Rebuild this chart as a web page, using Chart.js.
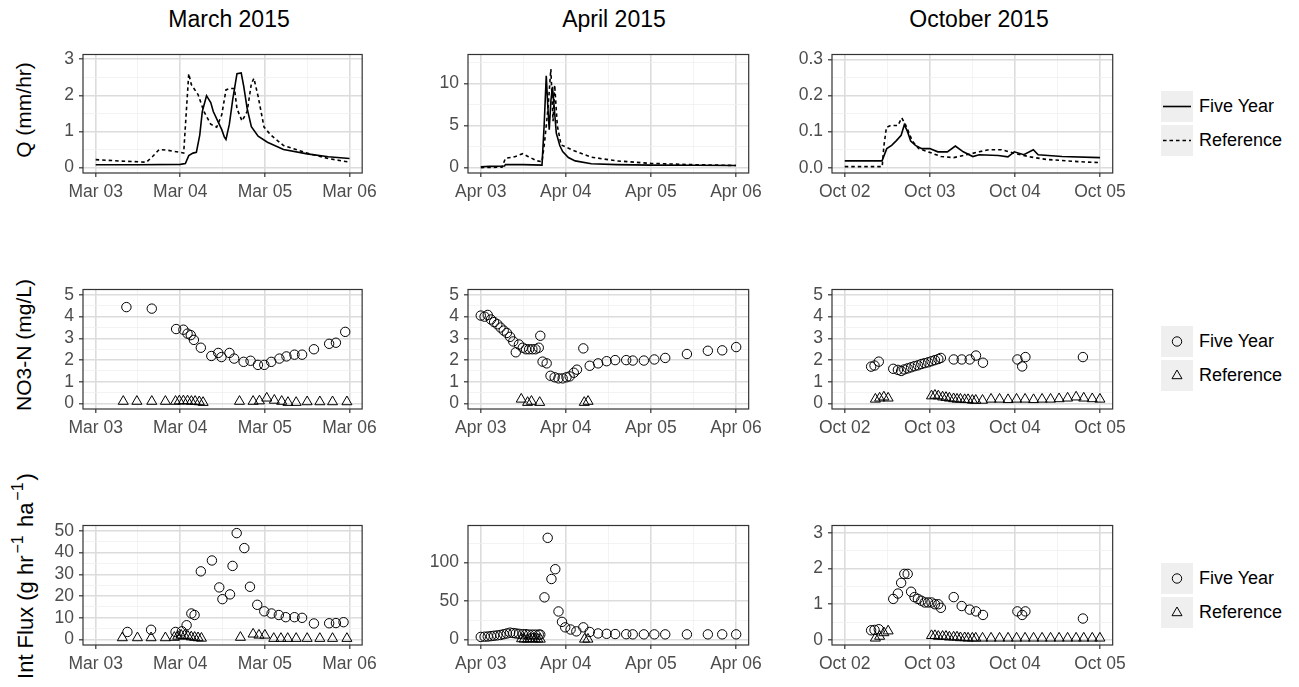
<!DOCTYPE html>
<html>
<head>
<meta charset="utf-8">
<script src="https://cdn.jsdelivr.net/npm/chart.js@4/dist/chart.umd.min.js"></script>
<style>
body { margin:0; background:#fff; width:1299px; height:687px; position:relative; overflow:hidden;
       font-family:"Liberation Sans", Arial, sans-serif; }
canvas { position:absolute; }
.title { position:absolute; font-size:23px; color:#000; transform:translateX(-50%); white-space:nowrap; }
.ytitle { position:absolute; font-size:21px; color:#000; white-space:nowrap;
          transform:translate(-50%,-50%) rotate(-90deg); }
.ytitle sup { font-size:16px; position:relative; top:-3px; vertical-align:top; line-height:1; margin:0 2px; }
.key { position:absolute; width:32px; height:31px; background:#efefef; }
.key svg { position:absolute; left:0; top:0; }
.lt { position:absolute; font-size:18px; color:#000; white-space:nowrap; transform:translateY(-50%); }
</style>
</head>
<body>
<div class="title" style="left:229px;top:6px">March 2015</div>
<div class="title" style="left:614px;top:6px">April 2015</div>
<div class="title" style="left:979px;top:6px">October 2015</div>
<div class="ytitle" style="left:24px;top:110px">Q (mm/hr)</div>
<div class="ytitle" style="left:24px;top:345px">NO3-N (mg/L)</div>
<div class="ytitle" style="left:26px;top:576px;font-size:22px">Int Flux (g hr<sup>−1</sup> ha<sup>−1</sup>)</div>
<script>
// tick labels
const marTicks = ['Mar 03', 'Mar 04', 'Mar 05', 'Mar 06'];
const aprTicks = ['Apr 03', 'Apr 04', 'Apr 05', 'Apr 06'];
const octTicks = ['Oct 02', 'Oct 03', 'Oct 04', 'Oct 05'];
const seriesNames = ['Five Year', 'Reference'];

// discharge Q (mm/hr), x = days after the first tick
const marQFive = [[0,0.08],[0.5,0.08],[1.0,0.09],[1.06,0.11],[1.1,0.33],[1.15,0.4],[1.19,0.42],[1.23,0.9],[1.26,1.55],[1.31,1.99],[1.36,1.8],[1.39,1.55],[1.45,1.25],[1.49,1.05],[1.52,0.85],[1.54,0.78],[1.58,1.2],[1.62,1.89],[1.67,2.6],[1.72,2.62],[1.75,2.25],[1.79,1.64],[1.84,1.13],[1.92,0.87],[2.03,0.7],[2.22,0.5],[2.5,0.38],[2.75,0.3],[3.0,0.25]];
const marQRef = [[0,0.22],[0.3,0.18],[0.6,0.15],[0.67,0.3],[0.75,0.5],[0.85,0.48],[1.0,0.42],[1.04,0.4],[1.07,1.5],[1.1,2.6],[1.13,2.3],[1.21,2.02],[1.28,1.55],[1.36,1.2],[1.43,1.12],[1.49,1.46],[1.54,2.15],[1.58,2.19],[1.64,2.19],[1.67,1.63],[1.73,1.29],[1.79,1.55],[1.84,2.32],[1.87,2.47],[1.92,1.97],[1.99,1.12],[2.07,0.9],[2.22,0.61],[2.5,0.4],[2.75,0.25],[3.0,0.15]];
const aprQFive = [[0,0.1],[0.1,0.15],[0.28,0.2],[0.29,0.35],[0.5,0.35],[0.72,0.3],[0.745,5],[0.77,10.9],[0.79,7],[0.805,4.5],[0.825,8],[0.843,9.6],[0.865,7],[0.888,4.1],[0.93,2.6],[0.963,1.9],[1.03,1.2],[1.11,0.8],[1.3,0.45],[1.6,0.35],[2.0,0.3],[2.5,0.28],[3.0,0.25]];
const aprQRef = [[0,0.0],[0.25,0.05],[0.29,1.1],[0.4,1.3],[0.494,1.65],[0.56,1.3],[0.663,0.8],[0.72,0.7],[0.75,3],[0.79,7],[0.824,11.7],[0.85,5.5],[0.869,9.8],[0.9,5],[0.944,2.7],[1.075,2.1],[1.3,1.24],[1.6,0.8],[2.0,0.5],[2.5,0.35],[3.0,0.25]];
const octQFive = [[0,0.019],[0.438,0.019],[0.494,0.053],[0.551,0.062],[0.607,0.075],[0.663,0.09],[0.7,0.119],[0.738,0.1],[0.775,0.074],[0.831,0.062],[0.906,0.053],[1.0,0.053],[1.094,0.044],[1.206,0.044],[1.3,0.06],[1.393,0.044],[1.506,0.031],[1.58,0.036],[1.805,0.034],[1.918,0.03],[1.993,0.044],[2.105,0.036],[2.217,0.05],[2.273,0.036],[2.554,0.031],[3.0,0.028]];
const octQRef = [[0,0.003],[0.44,0.003],[0.46,0.06],[0.49,0.112],[0.539,0.117],[0.625,0.117],[0.67,0.138],[0.719,0.117],[0.794,0.074],[0.869,0.053],[0.981,0.044],[1.131,0.031],[1.281,0.028],[1.431,0.036],[1.58,0.044],[1.693,0.05],[1.843,0.05],[1.993,0.04],[2.18,0.03],[2.367,0.023],[2.742,0.017],[3.0,0.014]];

// NO3-N (mg/L)
const marNFive = [[0.363,4.44],[0.663,4.37],[0.951,3.43],[1.037,3.4],[1.086,3.22],[1.124,3.15],[1.161,2.93],[1.243,2.57],[1.367,2.19],[1.449,2.33],[1.487,2.14],[1.581,2.33],[1.637,2.07],[1.749,1.92],[1.831,1.97],[1.918,1.78],[1.993,1.78],[2.075,1.92],[2.172,2.07],[2.255,2.17],[2.35,2.25],[2.44,2.25],[2.58,2.5],[2.76,2.75],[2.84,2.8],[2.95,3.3]];
const marNRef = [[0.326,0.1],[0.487,0.1],[0.663,0.1],[0.824,0.1],[0.944,0.1],[0.989,0.12],[1.037,0.12],[1.086,0.12],[1.131,0.1],[1.176,0.1],[1.225,0.08],[1.27,0.05],[1.7,0.1],[1.861,0.1],[1.936,0.12],[2.022,0.25],[2.112,0.15],[2.199,0.1],[2.273,0.05],[2.37,0.05],[2.5,0.08],[2.65,0.08],[2.8,0.08],[2.97,0.08]];
const aprNFive = [[0,4.05],[0.045,4.0],[0.082,4.08],[0.12,3.87],[0.157,3.75],[0.195,3.65],[0.232,3.5],[0.27,3.36],[0.307,3.25],[0.345,3.07],[0.382,2.86],[0.412,2.36],[0.449,2.72],[0.494,2.57],[0.532,2.5],[0.569,2.5],[0.607,2.5],[0.644,2.5],[0.682,2.57],[0.7,3.12],[0.727,1.93],[0.775,1.85],[0.82,1.28],[0.869,1.21],[0.914,1.16],[0.963,1.16],[1.008,1.21],[1.045,1.25],[1.094,1.42],[1.131,1.56],[1.206,2.54],[1.281,1.74],[1.38,1.85],[1.48,1.95],[1.58,2.0],[1.71,2.0],[1.787,1.98],[1.918,1.98],[2.041,2.03],[2.169,2.1],[2.424,2.28],[2.67,2.43],[2.839,2.45],[3.003,2.6]];
const aprNRef = [[0.476,0.2],[0.551,0.05],[0.596,0.1],[0.693,0.05],[1.217,0.05],[1.262,0.1]];
const octNFive = [[0.31,1.7],[0.35,1.75],[0.4,1.93],[0.57,1.6],[0.625,1.55],[0.663,1.5],[0.7,1.57],[0.74,1.62],[0.78,1.67],[0.82,1.72],[0.86,1.76],[0.9,1.82],[0.94,1.86],[0.98,1.9],[1.02,1.95],[1.06,2.0],[1.1,2.05],[1.13,2.1],[1.281,2.03],[1.375,2.03],[1.469,2.03],[1.543,2.21],[1.625,1.88],[2.03,2.03],[2.086,1.71],[2.124,2.14],[2.8,2.14]];
const octNRef = [[0.36,0.2],[0.41,0.25],[0.46,0.3],[0.51,0.25],[1.02,0.35],[1.06,0.38],[1.1,0.35],[1.15,0.3],[1.19,0.28],[1.23,0.25],[1.28,0.22],[1.32,0.2],[1.36,0.2],[1.41,0.18],[1.45,0.18],[1.5,0.15],[1.54,0.15],[1.62,0.15],[1.72,0.2],[1.82,0.2],[1.92,0.18],[2.02,0.2],[2.12,0.2],[2.22,0.18],[2.32,0.2],[2.42,0.2],[2.52,0.22],[2.62,0.25],[2.72,0.3],[2.81,0.25],[2.91,0.22],[3.0,0.2]];

// integrated flux (g hr-1 ha-1)
const marFFive = [[0.375,3.5],[0.655,4.5],[0.944,3.5],[1.019,3.8],[1.075,6.6],[1.131,12.0],[1.169,11.3],[1.243,31.4],[1.374,36.4],[1.461,24.0],[1.498,18.6],[1.588,20.8],[1.618,33.9],[1.667,49.0],[1.757,42.1],[1.824,24.3],[1.91,16.0],[1.993,13.0],[2.079,12.0],[2.165,11.3],[2.247,10.3],[2.35,10.3],[2.44,10.0],[2.58,7.4],[2.76,7.5],[2.84,7.6],[2.93,8.0]];
const marFRef = [[0.315,0.8],[0.494,0.8],[0.655,0.8],[0.824,0.8],[0.93,1.0],[0.97,1.5],[1.01,2.0],[1.05,1.8],[1.09,1.5],[1.13,1.2],[1.17,1.0],[1.21,0.8],[1.25,0.6],[1.711,1.0],[1.861,2.5],[1.93,2.0],[2.0,2.0],[2.105,0.5],[2.19,0.5],[2.27,0.5],[2.37,0.5],[2.5,0.5],[2.65,0.5],[2.8,0.5],[2.97,0.5]];
const aprFFive = [[0,3.5],[0.045,3.8],[0.082,4],[0.12,4.5],[0.157,5],[0.195,5.5],[0.232,6],[0.27,7],[0.307,8],[0.345,9],[0.382,8.5],[0.412,8],[0.449,7.5],[0.494,7],[0.532,7],[0.569,6.5],[0.607,6.5],[0.644,6.5],[0.682,6.5],[0.7,6.5],[0.749,54.8],[0.787,132],[0.831,78.6],[0.876,91.3],[0.914,36.5],[0.955,23],[0.993,15.9],[1.056,13.1],[1.124,10.7],[1.206,15.9],[1.281,9.9],[1.38,8],[1.48,7.5],[1.58,7.2],[1.71,7],[1.787,6.8],[1.918,6.8],[2.041,6.8],[2.169,6.8],[2.424,6.8],[2.67,6.8],[2.839,6.8],[3.003,6.8]];
const aprFRef = [[0.48,1],[0.51,0.5],[0.55,0.5],[0.58,1],[0.61,1],[0.64,0.8],[0.67,0.6],[0.7,0.5],[1.22,0.5],[1.26,0.5]];
const octFFive = [[0.31,0.27],[0.35,0.28],[0.4,0.3],[0.57,1.15],[0.625,1.3],[0.663,1.6],[0.7,1.85],[0.74,1.85],[0.78,1.35],[0.82,1.2],[0.86,1.15],[0.9,1.1],[0.94,1.05],[0.98,1.05],[1.02,1.05],[1.06,1.0],[1.1,1.0],[1.13,0.9],[1.281,1.2],[1.375,0.95],[1.469,0.85],[1.543,0.8],[1.625,0.7],[2.03,0.8],[2.086,0.7],[2.124,0.8],[2.8,0.6]];
const octFRef = [[0.36,0.05],[0.41,0.1],[0.46,0.2],[0.51,0.25],[1.02,0.12],[1.06,0.12],[1.1,0.1],[1.15,0.1],[1.19,0.1],[1.23,0.08],[1.28,0.08],[1.32,0.08],[1.36,0.06],[1.41,0.06],[1.45,0.05],[1.5,0.05],[1.54,0.05],[1.62,0.05],[1.72,0.05],[1.82,0.05],[1.92,0.05],[2.02,0.05],[2.12,0.05],[2.22,0.05],[2.32,0.05],[2.42,0.05],[2.52,0.05],[2.62,0.05],[2.72,0.05],[2.81,0.05],[2.91,0.05],[3.0,0.05]];

Chart.defaults.font.family = '"Liberation Sans", Arial, sans-serif';

const COLS = [[83, 376], [468, 761], [832, 1125]];
const ROWS = [[45, 173], [280, 409], [516, 645]];
const AXW = 60, AXH = 34, PAD = 6;

const frame = {
    id: 'frame',
    afterDraw(chart) {
        const a = chart.chartArea, ctx = chart.ctx;
        ctx.save();
        ctx.strokeStyle = '#333';
        ctx.lineWidth = 1.2;
        ctx.strokeRect(a.left, a.top, a.right - a.left, a.bottom - a.top);
        ctx.restore();
    }
};

function tickList(major, minor) {
    return major.map(v => ({ value: v, minor: false }))
        .concat(minor.map(v => ({ value: v, minor: true })))
        .sort((a, b) => a.value - b.value);
}

function gridOpts() {
    return {
        color: c => (c.tick && c.tick.minor) ? '#f0f0f0' : '#dcdcdc',
        lineWidth: c => (c.tick && c.tick.minor) ? 0.8 : 1.6,
        tickColor: c => (c.tick && c.tick.minor) ? 'rgba(0,0,0,0)' : '#333',
        tickLength: 4,
        tickWidth: 1.2
    };
}

function lineSet(pairs, dashed) {
    return {
        data: pairs.map(([x, y]) => ({ x, y })),
        showLine: true, pointRadius: 0, borderColor: '#000', borderWidth: 1.6,
        borderDash: dashed ? [3.5, 3] : [], fill: false
    };
}

function pointSet(pairs, shape) {
    return {
        data: pairs.map(([x, y]) => ({ x, y })),
        showLine: false, pointStyle: shape, pointRadius: shape === 'triangle' ? 5.8 : 4.7,
        borderColor: '#000', borderWidth: 1, backgroundColor: 'rgba(0,0,0,0)'
    };
}

function makePanel(col, row, xLabels, y, datasets) {
    const [L, R] = COLS[col], [T, B] = ROWS[row];
    const cv = document.createElement('canvas');
    cv.width = (R - L) + AXW + PAD;
    cv.height = (B - T) + PAD + AXH;
    cv.style.left = (L - AXW) + 'px';
    cv.style.top = (T - PAD) + 'px';
    document.body.appendChild(cv);

    new Chart(cv.getContext('2d'), {
        type: 'scatter',
        data: { datasets },
        plugins: [frame],
        options: {
            responsive: false, animation: false, events: [],
            layout: { padding: { top: PAD, right: PAD, left: 0, bottom: 0 } },
            plugins: { legend: { display: false }, tooltip: { enabled: false } },
            scales: {
                x: {
                    type: 'linear', min: -0.15, max: 3.15,
                    afterBuildTicks: s => { s.ticks = tickList([0, 1, 2, 3], [0.5, 1.5, 2.5]); },
                    afterFit: s => { s.height = AXH; },
                    grid: gridOpts(), border: { display: false },
                    ticks: {
                        autoSkip: false, maxRotation: 0, padding: 5, color: '#4d4d4d', font: { size: 17.5 },
                        callback: v => Number.isInteger(v) ? xLabels[v] : ''
                    }
                },
                y: {
                    type: 'linear', min: y.min, max: y.max,
                    afterBuildTicks: s => { s.ticks = tickList(y.major, y.minor); },
                    afterFit: s => { s.width = AXW; },
                    grid: gridOpts(), border: { display: false },
                    ticks: {
                        autoSkip: false, padding: 5, color: '#4d4d4d', font: { size: 17.5 },
                        callback: v => y.major.includes(v) ? v.toFixed(y.dec) : ''
                    }
                }
            }
        }
    });
}

const months = [marTicks, aprTicks, octTicks];
const qAxes = [
    { min: -0.15, max: 3.13, major: [0, 1, 2, 3], minor: [0.5, 1.5, 2.5], dec: 0 },
    { min: -0.64, max: 13.44, major: [0, 5, 10], minor: [2.5, 7.5, 12.5], dec: 0 },
    { min: -0.0146, max: 0.3136, major: [0, 0.1, 0.2, 0.3], minor: [0.05, 0.15, 0.25], dec: 1 }
];
const nAxis = { min: -0.25, max: 5.25, major: [0, 1, 2, 3, 4, 5], minor: [0.5, 1.5, 2.5, 3.5, 4.5], dec: 0 };
const fAxes = [
    { min: -2.5, max: 52.5, major: [0, 10, 20, 30, 40, 50], minor: [5, 15, 25, 35, 45], dec: 0 },
    { min: -7, max: 148, major: [0, 50, 100], minor: [25, 75, 125], dec: 0 },
    { min: -0.142, max: 3.207, major: [0, 1, 2, 3], minor: [0.5, 1.5, 2.5], dec: 0 }
];
const qData = [[marQFive, marQRef], [aprQFive, aprQRef], [octQFive, octQRef]];
const nData = [[marNFive, marNRef], [aprNFive, aprNRef], [octNFive, octNRef]];
const fData = [[marFFive, marFRef], [aprFFive, aprFRef], [octFFive, octFRef]];

for (let c = 0; c < 3; c++) {
    makePanel(c, 0, months[c], qAxes[c], [lineSet(qData[c][1], true), lineSet(qData[c][0], false)]);
    makePanel(c, 1, months[c], nAxis, [pointSet(nData[c][1], 'triangle'), pointSet(nData[c][0], 'circle')]);
    makePanel(c, 2, months[c], fAxes[c], [pointSet(fData[c][1], 'triangle'), pointSet(fData[c][0], 'circle')]);
}

// legends
function keySvg(kind) {
    if (kind === 'solid') return '<svg width="32" height="31"><line x1="2" y1="15.5" x2="30" y2="15.5" stroke="#000" stroke-width="1.6"/></svg>';
    if (kind === 'dashed') return '<svg width="32" height="31"><line x1="2" y1="15.5" x2="30" y2="15.5" stroke="#000" stroke-width="1.6" stroke-dasharray="3.5 3"/></svg>';
    if (kind === 'circle') return '<svg width="32" height="31"><circle cx="16" cy="15.5" r="4.7" fill="none" stroke="#000" stroke-width="1"/></svg>';
    return '<svg width="32" height="31"><polygon points="16,10 21,18.7 11,18.7" fill="none" stroke="#000" stroke-width="1"/></svg>';
}
const legendRows = [[106, ['solid', 'dashed']], [341, ['circle', 'triangle']], [578, ['circle', 'triangle']]];
legendRows.forEach(([cy, kinds]) => {
    kinds.forEach((k, i) => {
        const yc = cy + i * 34;
        const key = document.createElement('div');
        key.className = 'key';
        key.style.left = '1161px';
        key.style.top = (yc - 15.5) + 'px';
        key.innerHTML = keySvg(k);
        document.body.appendChild(key);
        const t = document.createElement('div');
        t.className = 'lt';
        t.style.left = '1199px';
        t.style.top = yc + 'px';
        t.textContent = seriesNames[i];
        document.body.appendChild(t);
    });
});
</script>
</body>
</html>
